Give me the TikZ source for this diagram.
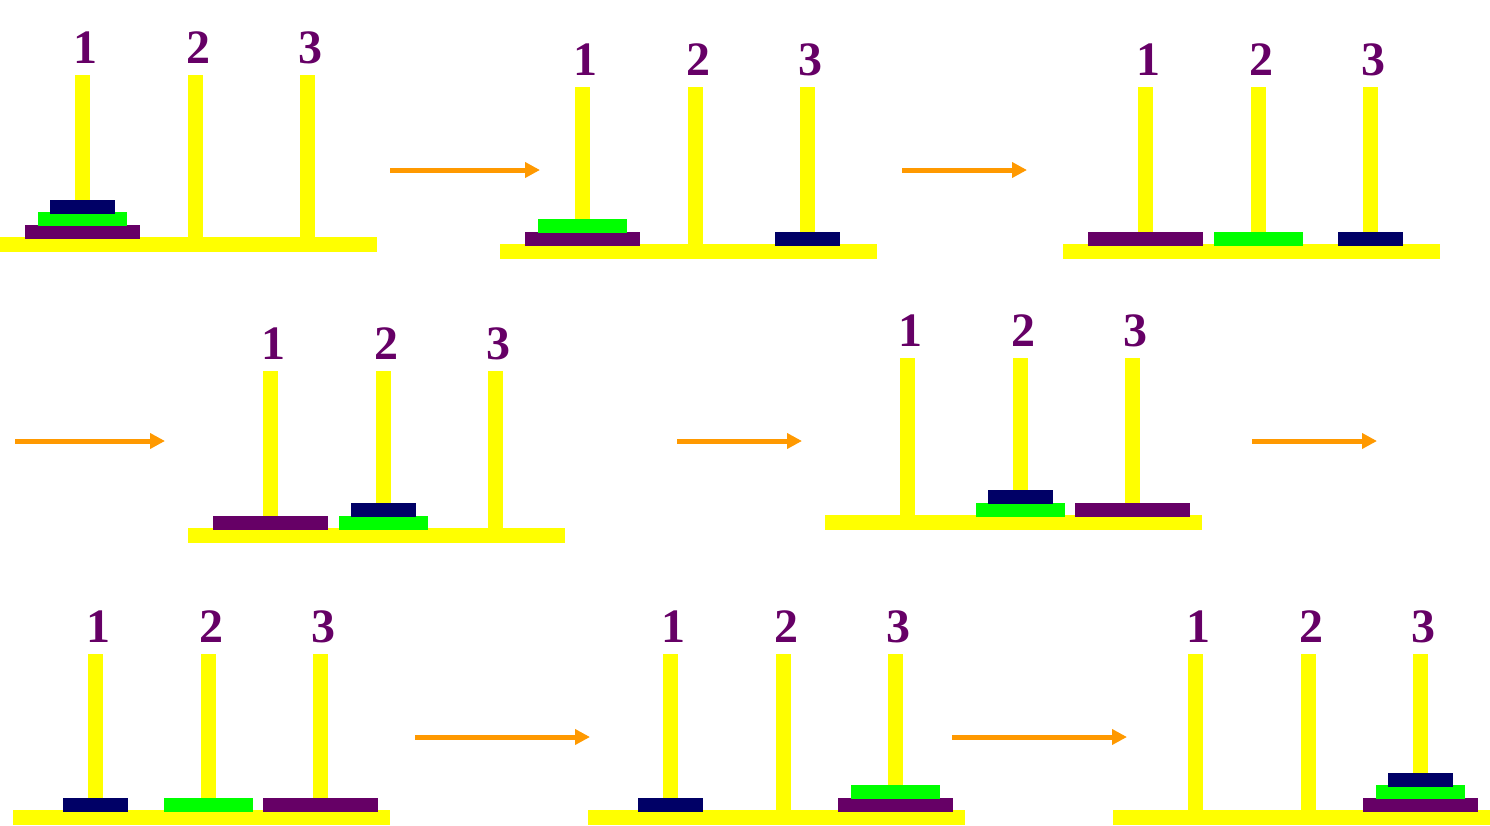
\documentclass[tikz,border=0pt]{standalone}
\usepackage{fontspec}
\setmainfont{Liberation Serif}
\usetikzlibrary{arrows.meta}
\definecolor{pegyellow}{HTML}{FFFF00}
\definecolor{diskpurple}{HTML}{660066}
\definecolor{diskgreen}{HTML}{00FF00}
\definecolor{disknavy}{HTML}{000066}
\definecolor{moveorange}{HTML}{FF9900}
% disk on a peg: name, style, base left, base top, peg, level
\newcommand{\hdisk}[6]{\node[#2] (#1) at ({#3+82.5+112.5*(#5-1)},{#4+2-12.5*#6}) {};}

\begin{document}
\begin{tikzpicture}[
  x=1pt, y=-1pt,
  peg/.style={fill=pegyellow},
  peglabel/.style={text=diskpurple, font=\fontsize{48}{48}\selectfont\bfseries,
    anchor=base, inner sep=0pt},
  disk/.style={rectangle, inner sep=0pt, minimum height=14, anchor=south},
  bigdisk/.style={disk, fill=diskpurple, minimum width=115},
  middisk/.style={disk, fill=diskgreen, minimum width=89},
  smalldisk/.style={disk, fill=disknavy, minimum width=65},
  move/.style={draw=moveorange, line width=5pt,
    -{Triangle[length=15pt, width=15pt]}}]

  \useasboundingbox (0,0) rectangle (1490,825);

  % towers: pegs, labels, base
  \foreach \t/\bx/\by/\ph in {a/0/237/162, b/500/244/157, c/1063/244/157,
      d/188/528/157, e/825/515/157, f/13/810/156, g/588/810/156, h/1113/810/156} {
    \foreach \p in {1,2,3} {
      \fill[peg] ({\bx+75+112.5*(\p-1)},\by) rectangle ++(15,-\ph);
      \node[peglabel] (\t-\p) at ({\bx+85.5+112.5*(\p-1)},{\by-\ph-12}) {\p};
    }
    \fill[peg] (\bx,\by) rectangle ++(377,15);
  }

  % disks
  \hdisk{a-l}{bigdisk}{0}{237}{1}{0}
  \hdisk{a-m}{middisk}{0}{237}{1}{1}
  \hdisk{a-s}{smalldisk}{0}{237}{1}{2}

  \hdisk{b-l}{bigdisk}{500}{244}{1}{0}
  \hdisk{b-m}{middisk}{500}{244}{1}{1}
  \hdisk{b-s}{smalldisk}{500}{244}{3}{0}

  \hdisk{c-l}{bigdisk}{1063}{244}{1}{0}
  \hdisk{c-m}{middisk}{1063}{244}{2}{0}
  \hdisk{c-s}{smalldisk}{1063}{244}{3}{0}

  \hdisk{d-l}{bigdisk}{188}{528}{1}{0}
  \hdisk{d-m}{middisk}{188}{528}{2}{0}
  \hdisk{d-s}{smalldisk}{188}{528}{2}{1}

  \hdisk{e-l}{bigdisk}{825}{515}{3}{0}
  \hdisk{e-m}{middisk}{825}{515}{2}{0}
  \hdisk{e-s}{smalldisk}{825}{515}{2}{1}

  \hdisk{f-l}{bigdisk}{13}{810}{3}{0}
  \hdisk{f-m}{middisk}{13}{810}{2}{0}
  \hdisk{f-s}{smalldisk}{13}{810}{1}{0}

  \hdisk{g-l}{bigdisk}{588}{810}{3}{0}
  \hdisk{g-m}{middisk}{588}{810}{3}{1}
  \hdisk{g-s}{smalldisk}{588}{810}{1}{0}

  \hdisk{h-l}{bigdisk}{1113}{810}{3}{0}
  \hdisk{h-m}{middisk}{1113}{810}{3}{1}
  \hdisk{h-s}{smalldisk}{1113}{810}{3}{2}

  % moves
  \foreach \m/\sx/\ex/\y in {1/390/540/170, 2/902/1027/170, 3/15/165/441,
      4/677/802/441, 5/1252/1377/441, 6/415/590/737, 7/952/1127/737} {
    \coordinate (s\m) at (\sx,\y);
    \coordinate (e\m) at (\ex,\y);
    \draw[move] (s\m) -- (e\m);
  }
\end{tikzpicture}
\end{document}
